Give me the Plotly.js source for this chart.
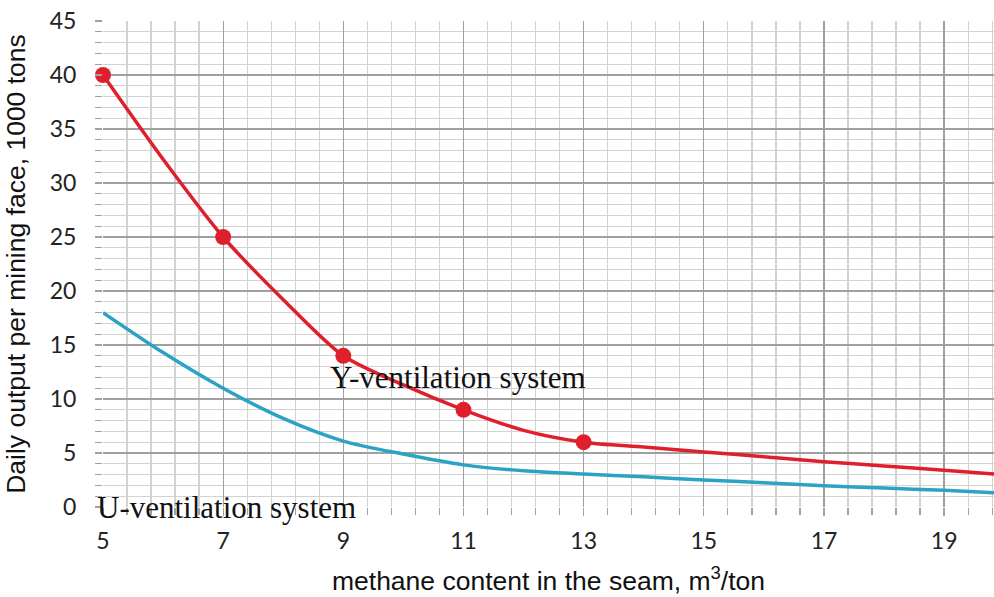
<!DOCTYPE html>
<html>
<head>
<meta charset="utf-8">
<script src="https://cdn.plot.ly/plotly-3.0.1.min.js"></script>
<style>html,body{margin:0;padding:0;background:#fff}#chart{width:994px;height:597px}</style>
</head>
<body>
<div id="chart"></div>
<script>
// methane content (m3/ton)
const xY = [5, 6, 7, 8, 9, 10, 11, 12, 13, 14, 15, 16, 17, 18, 19, 19.83];
const yY = [40, 32.2, 25, 19.2, 14, 11.3, 9, 7.1, 6, 5.55, 5.1, 4.65, 4.2, 3.8, 3.4, 3.05];
const xYmarks = [5, 7, 9, 11, 13];
const yYmarks = [40, 25, 14, 9, 6];
const xU = [5, 6, 7, 8, 9, 10, 11, 12, 13, 14, 15, 16, 17, 18, 19, 19.83];
const yU = [18, 14.3, 11, 8.2, 6.1, 4.9, 3.9, 3.35, 3.05, 2.8, 2.5, 2.25, 1.97, 1.75, 1.55, 1.32];
const xTicks = [5, 7, 9, 11, 13, 15, 17, 19];
const yTicks = [0, 5, 10, 15, 20, 25, 30, 35, 40, 45];
const labelY = "Y-ventilation system";
const labelU = "U-ventilation system";

const red = '#e01f2d', blue = '#2ba3c4';
const traces = [
  {x: xU, y: yU, mode: 'lines', line: {color: blue, width: 3.5, shape: 'spline', smoothing: 0.8}, hoverinfo: 'skip'},
  {x: xY, y: yY, mode: 'lines', line: {color: red, width: 3.5, shape: 'spline', smoothing: 0.8}, hoverinfo: 'skip'},
  {x: xYmarks, y: yYmarks, mode: 'markers', marker: {color: red, size: 16}, cliponaxis: false, hoverinfo: 'skip'}
];
const tickFont = {family: 'Lato, sans-serif', size: 23, color: '#222'};
const titleFont = {family: 'Liberation Sans, Arial, sans-serif', size: 26.5, color: '#111'};
const layout = {
  width: 994, height: 597,
  margin: {l: 103, r: 0, t: 21, b: 90},
  showlegend: false,
  paper_bgcolor: '#fff', plot_bgcolor: '#fff',
  xaxis: {
    range: [5, 19.83], tickvals: xTicks, ticktext: xTicks.map(String),
    showgrid: true, gridcolor: '#a0a0a0', gridwidth: 1.3, zeroline: false, showline: false,
    ticks: 'outside', ticklen: 8, tickcolor: '#a0a0a0', tickwidth: 1.3,
    ticklabelstandoff: 5,
    minor: {dtick: 0.4, tick0: 5, showgrid: true, gridcolor: '#d2d2d2', gridwidth: 1.3, ticks: 'outside', ticklen: 7, tickcolor: '#a0a0a0'},
    tickfont: tickFont,
    title: {text: 'methane content in the seam, m<sup>3</sup>/ton', font: titleFont, standoff: 18},
    automargin: false,
    fixedrange: true
  },
  yaxis: {
    range: [0, 45], tickvals: yTicks, ticktext: yTicks.map(String),
    showgrid: true, gridcolor: '#a0a0a0', gridwidth: 1.3, zeroline: false, showline: false,
    ticks: 'outside', ticklen: 7, tickcolor: '#a0a0a0', tickwidth: 1.3,
    ticklabelstandoff: 14,
    minor: {dtick: 1, tick0: 0, showgrid: true, gridcolor: '#d2d2d2', gridwidth: 1.3, ticks: 'outside', ticklen: 7, tickcolor: '#a0a0a0'},
    tickfont: tickFont,
    title: {text: 'Daily output per mining face, 1000 tons', font: titleFont, standoff: 16},
    automargin: false,
    fixedrange: true
  },
  annotations: [
    {x: 9, y: 12.0, xref: 'x', yref: 'y', xanchor: 'left', yanchor: 'middle', xshift: -15, text: labelY, showarrow: false,
     font: {family: 'Liberation Serif, serif', size: 31, color: '#111'}},
    {x: 5, y: 0, xref: 'x', yref: 'y', xanchor: 'left', yanchor: 'middle', xshift: -8, text: labelU, showarrow: false,
     font: {family: 'Liberation Serif, serif', size: 31, color: '#111'}}
  ]
};
Plotly.newPlot('chart', traces, layout, {displayModeBar: false, staticPlot: true});
</script>
</body>
</html>
